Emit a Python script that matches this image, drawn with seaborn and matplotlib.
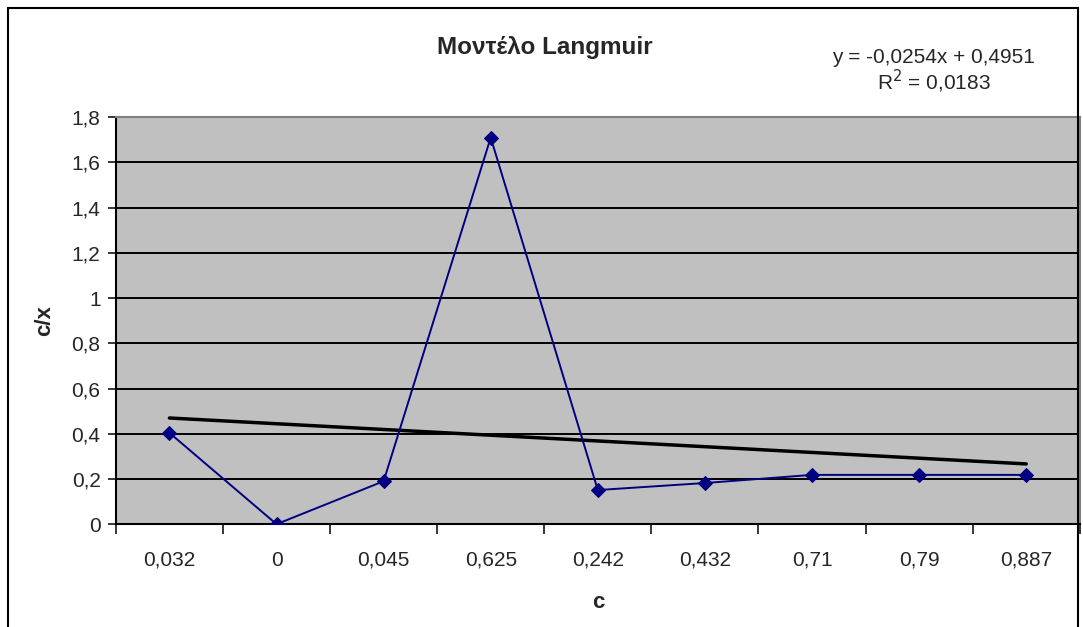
import numpy as np
import pandas as pd
import matplotlib
matplotlib.use("Agg")
import matplotlib.pyplot as plt
import seaborn as sns
from matplotlib.patches import Rectangle
from matplotlib.ticker import FixedLocator

# -------------------------
# Data
# -------------------------
c_labels = ["0,032", "0", "0,045", "0,625", "0,242", "0,432", "0,71", "0,79", "0,887"]
cx_values = [0.404, 0.0, 0.19, 1.71, 0.151, 0.182, 0.218, 0.218, 0.218]

# Excel linear trendline shown on the chart (x = 1..n)
trend_slope = -0.0254
trend_intercept = 0.4951
trend_label = "y = -0,0254x + 0,4951"
r2_label = "R$^2$ = 0,0183"

y_ticks = [0, 0.2, 0.4, 0.6, 0.8, 1.0, 1.2, 1.4, 1.6, 1.8]

df = pd.DataFrame({"pos": np.arange(len(c_labels)), "cx": cx_values})
df["trend"] = trend_slope * (df["pos"] + 1) + trend_intercept

# -------------------------
# Figure
# -------------------------
sns.set_style("white")
plt.rcParams["font.family"] = ["Liberation Sans", "DejaVu Sans"]

fig = plt.figure(figsize=(10.83, 6.27), dpi=100)
ax = fig.add_axes([0.107, 0.164, 0.890, 0.649])
ax.set_facecolor("#c0c0c0")

# outer chart border
fig.patches.append(Rectangle((0.0074, -0.05), 0.988, 1.037, transform=fig.transFigure,
                             fill=False, edgecolor="black", linewidth=1.5))

for y in y_ticks[1:]:
    ax.axhline(y, color="black", linewidth=1.4, zorder=1)

sns.lineplot(data=df, x="pos", y="trend", color="black", linewidth=2.5, ax=ax, zorder=2)
sns.lineplot(data=df, x="pos", y="cx", color="#000080", linewidth=1.4, marker="D",
             markersize=7, markeredgecolor="#000080", ax=ax, zorder=3)

ax.set_xlim(-0.5, len(c_labels) - 0.5)
ax.set_ylim(0, 1.8)

# ticks: marks between categories, labels under the categories
ax.xaxis.set_major_locator(FixedLocator(np.arange(-0.5, len(c_labels), 1.0)))
ax.xaxis.set_minor_locator(FixedLocator(df["pos"].values))
ax.set_xticklabels([])
ax.set_xticklabels(c_labels, minor=True)
ax.tick_params(axis="x", which="major", direction="out", length=7, width=1.3, bottom=True)
ax.tick_params(axis="x", which="minor", length=0, pad=19, labelsize=15)

ax.set_yticks(y_ticks)
ax.set_yticklabels([f"{v:g}".replace(".", ",") for v in y_ticks])
ax.tick_params(axis="y", direction="out", length=6, width=1.3, left=True, labelsize=15, pad=5)

for side in ["left", "bottom"]:
    ax.spines[side].set_color("black")
    ax.spines[side].set_linewidth(1.5)
for side in ["top", "right"]:
    ax.spines[side].set_color("#808080")
    ax.spines[side].set_linewidth(1.5)

ax.set_xlabel("c", fontsize=16, fontweight="bold", labelpad=16)
ax.set_ylabel("c/x", fontsize=16, fontweight="bold", labelpad=12)

fig.text(0.503, 0.925, "Μοντέλο Langmuir", ha="center", va="center",
         fontsize=17.5, fontweight="bold")
fig.text(0.862, 0.908, trend_label, ha="center", va="center", fontsize=15)
fig.text(0.862, 0.870, r2_label, ha="center", va="center", fontsize=15)

plt.savefig("out.png", dpi=100)
plt.close()
